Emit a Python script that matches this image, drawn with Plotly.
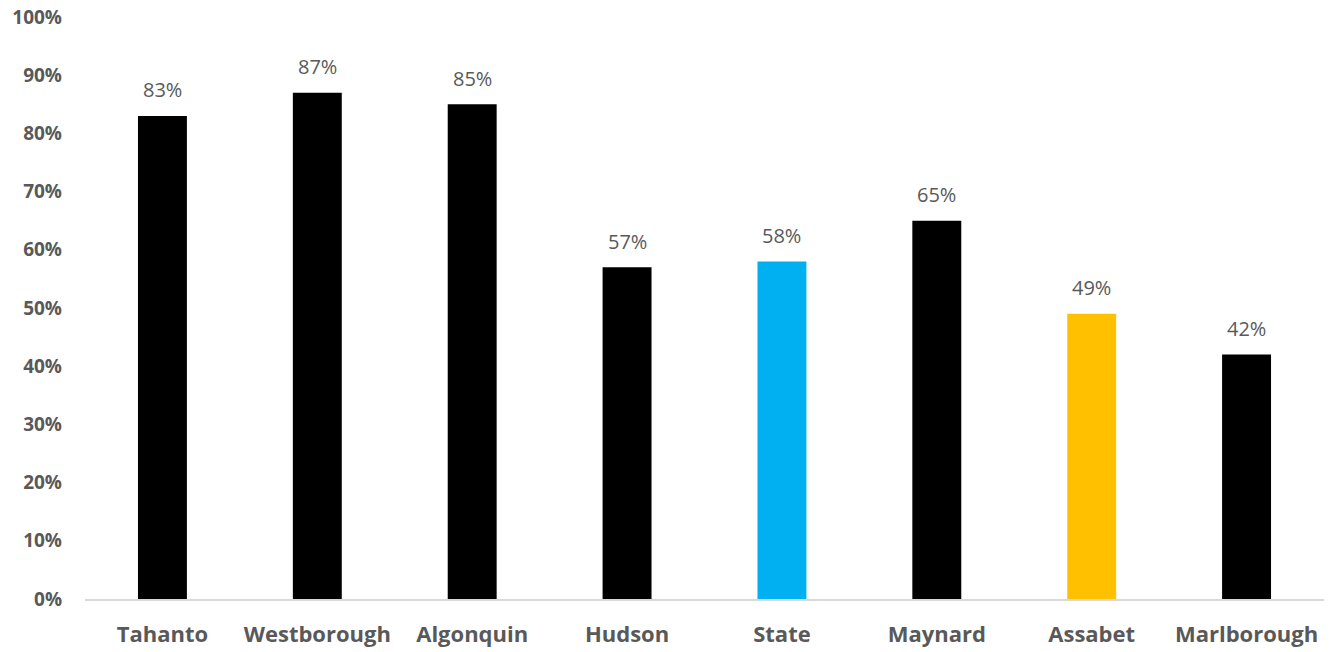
import plotly.graph_objects as go

categories = ["Tahanto", "Westborough", "Algonquin", "Hudson", "State", "Maynard", "Assabet", "Marlborough"]
values = [0.83, 0.87, 0.85, 0.57, 0.58, 0.65, 0.49, 0.42]
colors = ["#000000", "#000000", "#000000", "#000000", "#00B0F0", "#000000", "#FFC000", "#000000"]
labels = [f"{round(v*100)}%" for v in values]

font_family = "'Open Sans', Arial, sans-serif"
gray = "#595959"

fig = go.Figure(go.Bar(
    x=categories, y=values, marker=dict(color=colors, line=dict(width=0)),
    hoverinfo="skip",
))

for c, v, t in zip(categories, values, labels):
    fig.add_annotation(x=c, y=v, text=t, showarrow=False, yanchor="middle",
                       yshift=26, font=dict(family=font_family, size=20, color=gray))

fig.update_layout(
    width=1332, height=652,
    margin=dict(l=85, r=8, t=17, b=53),
    paper_bgcolor="white", plot_bgcolor="white",
    bargap=0.684, showlegend=False,
    xaxis=dict(showline=True, linecolor="#D9D9D9", linewidth=2, ticks="",
               tickfont=dict(family=font_family, size=22, color=gray, weight="bold"),
               ticklabelstandoff=15, automargin=False, fixedrange=True),
    yaxis=dict(range=[0, 1], dtick=0.1, tickformat=".0%", showgrid=False, zeroline=False,
               showline=False, ticks="",
               tickfont=dict(family=font_family, size=19, color=gray, weight="bold"),
               ticklabelstandoff=22, automargin=False, fixedrange=True),
)

fig.write_html("out.html")
